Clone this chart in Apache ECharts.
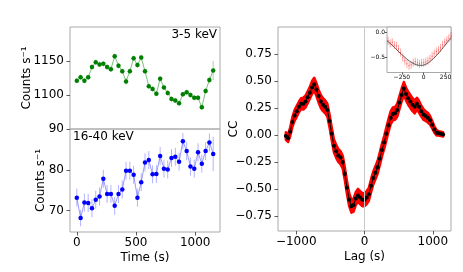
<!DOCTYPE html>
<html><head><meta charset="utf-8">
<script src="https://cdn.jsdelivr.net/npm/echarts@6/dist/echarts.min.js"></script>
<style>html,body{margin:0;padding:0;background:#fff}#c{width:463px;height:272px}</style>
</head><body><div id="c"></div>
<script>
// ---- data ----
const times = [0,32,64,96,128,160,192,224,256,288,320,352,384,416,448,480,512,544,576,608,640,672,704,736,768,800,832,864,896,928,960,992,1024,1056,1088,1120,1152];
const softRate = [1121,1126,1121,1126,1141,1148,1145,1146,1141,1138,1157,1143,1135,1120,1135,1154,1144,1155,1135,1113,1109,1102,1124,1111,1103,1094,1092,1088,1101,1104,1100,1096,1096,1082,1106,1122,1136];
const softErr = [4,4,4,4,4,4,4,4,4,4,4,4,4,5,4,4,4,4,4,4,4,4,4,4,4,4,4,4,4,4,4,4,4,4,4,5,14];
const hardRate = [73.2,68.2,72.0,71.9,70.6,72.7,73.5,77.8,74.1,74.1,71.2,74.1,75.2,79.8,79.8,78.8,73.2,77.0,81.8,82.4,78.9,79.0,83.4,80.3,80.1,82.9,83.2,82.0,87.0,84.6,80.8,80.3,84.3,81.5,84.6,86.7,83.9];
const hardErr = [2.2,2.0,2.2,2.2,2.2,2.2,2.2,2.2,2.2,2.2,2.2,2.2,2.2,2.2,2.2,2.2,2.2,2.2,2.2,2.2,2.2,2.2,2.2,2.2,2.2,2.2,2.2,2.2,2.0,2.2,2.2,2.2,2.2,2.2,2.2,2.2,4.2];
const lags = [-1152,-1120,-1088,-1056,-1024,-992,-960,-928,-896,-864,-832,-800,-768,-736,-704,-672,-640,-608,-576,-544,-512,-480,-448,-416,-384,-352,-320,-288,-256,-224,-192,-160,-128,-96,-64,-32,0,32,64,96,128,160,192,224,256,288,320,352,384,416,448,480,512,544,576,608,640,672,704,736,768,800,832,864,896,928,960,992,1024,1056,1088,1120,1152];
const ccValues = [-0.01,-0.03,0.03,0.12,0.18,0.22,0.26,0.29,0.29,0.31,0.35,0.39,0.44,0.47,0.42,0.36,0.31,0.28,0.26,0.23,0.13,0.01,-0.10,-0.15,-0.19,-0.21,-0.25,-0.36,-0.49,-0.60,-0.66,-0.65,-0.59,-0.56,-0.58,-0.60,-0.60,-0.58,-0.55,-0.47,-0.40,-0.35,-0.30,-0.22,-0.14,-0.07,0.01,0.09,0.16,0.195,0.20,0.23,0.30,0.37,0.43,0.38,0.34,0.31,0.28,0.26,0.29,0.26,0.22,0.19,0.175,0.16,0.135,0.095,0.05,0.02,0.015,0.01,0.005];
const ccErr = [0.035,0.035,0.04,0.045,0.05,0.05,0.05,0.05,0.055,0.055,0.055,0.055,0.06,0.06,0.06,0.06,0.06,0.06,0.06,0.06,0.06,0.06,0.06,0.06,0.06,0.06,0.06,0.06,0.06,0.06,0.06,0.06,0.06,0.06,0.06,0.06,0.06,0.06,0.06,0.06,0.06,0.06,0.06,0.06,0.06,0.06,0.06,0.06,0.06,0.06,0.06,0.06,0.06,0.06,0.06,0.06,0.06,0.06,0.06,0.06,0.055,0.055,0.05,0.05,0.045,0.045,0.04,0.035,0.03,0.025,0.02,0.02,0.02];
const insetLags = [-408,-384,-360,-336,-312,-288,-264,-240,-216,-192,-168,-144,-120,-96,-72,-48,-24,0,24,48,72,96,120,144,168,192,216,240,264,288,312];
const insetCC = [-0.17,-0.22,-0.20,-0.25,-0.27,-0.33,-0.40,-0.50,-0.56,-0.62,-0.66,-0.64,-0.60,-0.58,-0.60,-0.62,-0.60,-0.60,-0.58,-0.56,-0.52,-0.47,-0.42,-0.38,-0.35,-0.31,-0.25,-0.20,-0.16,-0.12,-0.08];
const insetErr = [0.08,0.08,0.08,0.08,0.08,0.08,0.08,0.08,0.08,0.08,0.08,0.08,0.08,0.08,0.08,0.08,0.08,0.08,0.08,0.08,0.08,0.08,0.08,0.08,0.08,0.08,0.08,0.08,0.08,0.08,0.08];
const fitLags = [-420,-352,-288,-224,-160,-96,-32,32,96,160,224,288,312];
const fitCC = [-0.17,-0.27,-0.38,-0.48,-0.57,-0.63,-0.65,-0.62,-0.54,-0.43,-0.30,-0.16,-0.12];
const timeTicks = [0,500,1000];
const softTicks = [1100,1150];
const hardTicks = [70,80,90];
const lagTicks = [-1000,0,1000];
const ccTicks = [-0.75,-0.5,-0.25,0,0.25,0.5,0.75];
const insetXTicks = [-250,0,250];
const insetYTicks = [-0.5,0];

// ---- chart ----
const FONT = 'DejaVu Sans';
const minus = s => String(s).replace('-', '\u2212');
const border = '#aaaaaa';
const tickCol = '#333';

function gridBox(left, top, width, height, bg) {
  return {left, top, width, height, show: true, borderColor: border, borderWidth: 1, backgroundColor: bg || 'transparent', containLabel: false};
}
function valAxis(gridIndex, min, max, ticks, opts) {
  opts = opts || {};
  return Object.assign({
    type: 'value', gridIndex, min, max,
    axisLine: {show: false, onZero: false},
    splitLine: {show: false},
    axisTick: {show: opts.ticks !== false, customValues: ticks, length: opts.tickLen || 3.5, lineStyle: {color: tickCol, width: 0.8}},
    axisLabel: {show: opts.labels !== false, customValues: ticks, color: '#000', fontFamily: FONT, fontSize: opts.fs || 12, margin: opts.margin || 6,
      formatter: opts.fmt || (v => minus(v))},
  }, opts.extra || {});
}
function named(name, gap) {
  return {name, nameLocation: 'middle', nameGap: gap, nameMoveOverlap: false,
    nameTextStyle: {fontFamily: FONT, fontSize: 12, color: '#000'}};
}
function errBars(xs, ys, es, xi, yi, color, width) {
  return {
    type: 'custom', xAxisIndex: xi, yAxisIndex: yi, silent: true, z: 1,
    data: xs.map((x, i) => [x, ys[i] - es[i], ys[i] + es[i]]),
    encode: {x: 0, y: [1, 2]},
    renderItem: (p, api) => {
      const a = api.coord([api.value(0), api.value(1)]);
      const b = api.coord([api.value(0), api.value(2)]);
      return {type: 'line', shape: {x1: a[0], y1: a[1], x2: b[0], y2: b[1]}, style: {stroke: color, lineWidth: width}};
    }
  };
}

const chart = echarts.init(document.getElementById('c'), null, {renderer: 'canvas'});
const option = {
  animation: false,
  backgroundColor: '#fff',
  textStyle: {fontFamily: FONT},
  grid: [
    gridBox(70, 27, 150, 102),
    gridBox(70, 129, 150, 103),
    gridBox(278, 27, 173, 204),
    gridBox(387, 27, 64, 45.5, '#fff')
  ],
  xAxis: [
    valAxis(0, -57.6, 1209.6, timeTicks, {labels: false, ticks: false}),
    valAxis(1, -57.6, 1209.6, timeTicks, {margin: 5, extra: named('Time (s)', 20)}),
    valAxis(2, -1267, 1267, lagTicks, {margin: 5, extra: named('Lag (s)', 20)}),
    valAxis(3, -420, 312, insetXTicks, {fs: 6, margin: 2, tickLen: 2})
  ],
  yAxis: [
    valAxis(0, 1050, 1200, softTicks, {extra: named('Counts s\u207B\u00B9', 37)}),
    valAxis(1, 64.8, 90, hardTicks, {extra: named('Counts s\u207B\u00B9', 23)}),
    valAxis(2, -0.89, 1.0, ccTicks, {fmt: v => minus(v.toFixed(2)), extra: named('CC', 38)}),
    valAxis(3, -0.79, 0.1, insetYTicks, {fs: 6, margin: 2, tickLen: 2, fmt: v => minus(v.toFixed(1))})
  ],
  graphic: [
    {type: 'text', right: 463 - 217, top: 29, style: {text: '3-5 keV', font: '12px "DejaVu Sans"', fill: '#000'}, z: 10},
    {type: 'text', left: 73, top: 131, style: {text: '16-40 keV', font: '12px "DejaVu Sans"', fill: '#000'}, z: 10}
  ],
  series: [
    errBars(times, softRate, softErr, 0, 0, 'rgba(0,128,0,0.35)', 1),
    {type: 'line', xAxisIndex: 0, yAxisIndex: 0, data: times.map((t, i) => [t, softRate[i]]), z: 2,
      symbol: 'circle', symbolSize: 4.5, itemStyle: {color: '#008000'}, lineStyle: {color: 'rgba(0,128,0,0.5)', width: 1}},
    errBars(times, hardRate, hardErr, 1, 1, 'rgba(0,0,255,0.3)', 1),
    {type: 'line', xAxisIndex: 1, yAxisIndex: 1, data: times.map((t, i) => [t, hardRate[i]]), z: 2,
      symbol: 'circle', symbolSize: 4.5, itemStyle: {color: '#0000ff'}, lineStyle: {color: 'rgba(0,0,255,0.4)', width: 1}},
    // zero-lag reference line
    {type: 'line', xAxisIndex: 2, yAxisIndex: 2, data: lags.map((l, i) => [l, ccValues[i]]), z: 1, silent: true,
      symbol: 'none', lineStyle: {opacity: 0},
      markLine: {silent: true, symbol: 'none', label: {show: false}, lineStyle: {color: '#c8c8c8', width: 1, type: 'solid'}, data: [{xAxis: 0}]}},
    // error band
    {type: 'custom', xAxisIndex: 2, yAxisIndex: 2, silent: true, z: 2,
      data: [[lags[0], ccValues[0]]],
      renderItem: (p, api) => {
        const pts = [];
        for (let i = 0; i < lags.length; i++) pts.push(api.coord([lags[i], ccValues[i] + ccErr[i]]));
        for (let i = lags.length - 1; i >= 0; i--) pts.push(api.coord([lags[i], ccValues[i] - ccErr[i]]));
        return {type: 'polygon', shape: {points: pts}, style: {fill: '#ff0000', stroke: '#ff0000', lineWidth: 2.5, lineJoin: 'round'}};
      }},
    {type: 'line', xAxisIndex: 2, yAxisIndex: 2, data: lags.map((l, i) => [l, ccValues[i]]), z: 3,
      symbol: 'circle', symbolSize: 4, itemStyle: {color: '#000'}, lineStyle: {color: '#000', width: 1}},
    // inset
    errBars(insetLags, insetCC, insetErr, 3, 3, 'rgba(255,0,0,0.35)', 1),
    {type: 'scatter', xAxisIndex: 3, yAxisIndex: 3, data: insetLags.map((l, i) => [l, insetCC[i]]), z: 3,
      symbol: 'circle', symbolSize: 1.5, itemStyle: {color: 'rgba(255,0,0,0.5)'}},
    {type: 'line', xAxisIndex: 3, yAxisIndex: 3, data: fitLags.map((l, i) => [l, fitCC[i]]), z: 4, smooth: true,
      symbol: 'none', lineStyle: {color: '#333', width: 0.8}}
  ]
};
chart.setOption(option);
</script></body></html>
